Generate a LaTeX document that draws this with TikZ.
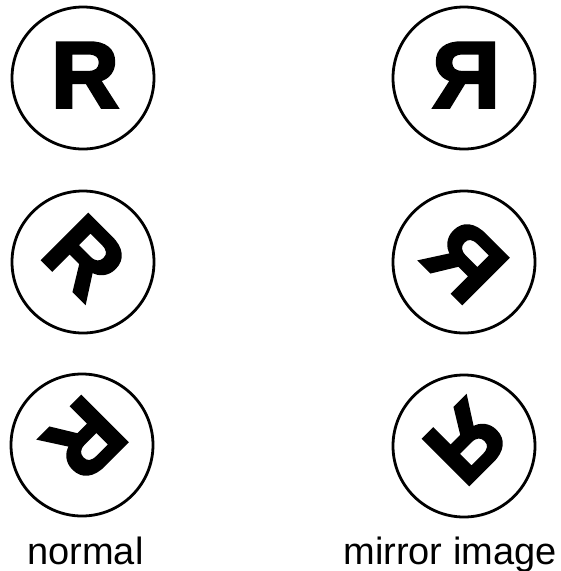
\documentclass[tikz,border=0pt]{standalone}
\usepackage{fontspec}
\usepackage{graphicx}
\setmainfont{Liberation Sans}
\newfontfamily\heavyfont[BoldFeatures={FakeBold=3}]{Liberation Sans}
\begin{document}
\begin{tikzpicture}[x=1pt,y=-1pt,
  ring/.style={circle,draw,line width=2.8pt,minimum size=142pt,inner sep=0pt},
  letter/.style={inner sep=0pt,font=\fontsize{94}{94}\heavyfont\bfseries},
  caption/.style={inner sep=0pt,anchor=base,font=\fontsize{38}{38}\selectfont}]
\useasboundingbox (0,0) rectangle (561,571);
% left column: normal
\node[ring] (c1) at (83,78) {};
\node[ring] (c2) at (83,262) {};
\node[ring] (c3) at (82,445) {};
\node[letter] (r1) at (85,75) {R};
\node[letter,rotate=-45] (r2) at (85,257) {R};
\node[letter,rotate=-135] (r3) at (84.5,439) {R};
% right column: mirror image
\node[ring] (c4) at (464,78) {};
\node[ring] (c5) at (464,262) {};
\node[ring] (c6) at (464,446) {};
\node[letter] (r4) at (466,75) {\reflectbox{R}};
\node[letter,rotate=-45] (r5) at (465.5,261) {\reflectbox{R}};
\node[letter,rotate=-135] (r6) at (466,442) {\reflectbox{R}};
% captions
\node[caption] (t1) at (85.5,564) {normal};
\node[caption] (t2) at (450,564) {mirror image};
\end{tikzpicture}
\end{document}
